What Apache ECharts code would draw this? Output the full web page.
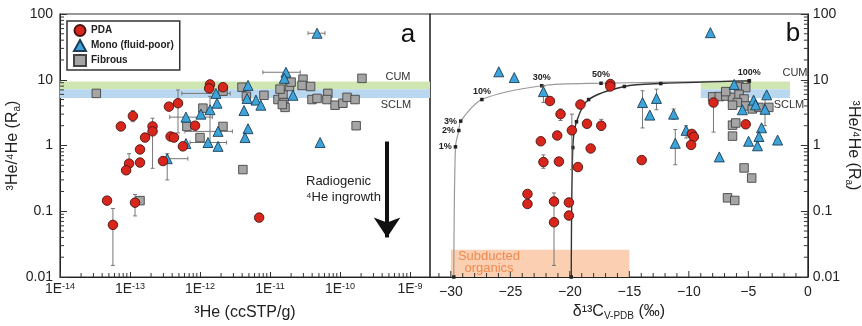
<!DOCTYPE html>
<html>
<head>
<meta charset="utf-8">
<title>3He/4He vs 3He and d13C</title>
<script src="https://cdn.jsdelivr.net/npm/echarts@6/dist/echarts.min.js"></script>
<style>
  html, body { margin: 0; padding: 0; background: #fff; }
  #chart { width: 862px; height: 326px; }
</style>
</head>
<body>
<div id="chart"></div>
<script>
const FONT = "'Liberation Sans', Arial, sans-serif";

// panel a: 3He (ccSTP/g) vs 3He/4He (Ra)
const pdaA = [[1.39e-12, 8.5], [1.35e-12, 7.4], [2.13e-12, 7.7], [3.6e-13, 3.9], [4.85e-13, 4.4],
  [1.1e-13, 2.8], [7.4e-14, 1.95], [8.5e-13, 2.0], [2.1e-13, 1.95], [2.1e-13, 1.64], [1.64e-13, 1.32],
  [3.8e-13, 1.37], [4.25e-13, 1.32], [5.7e-13, 0.97], [1.39e-13, 0.87], [9.7e-14, 0.53], [1.39e-13, 0.55],
  [8.8e-14, 0.42], [2.96e-13, 0.58], [4.7e-14, 0.145], [5.7e-14, 0.062], [1.18e-13, 0.135], [7.0e-12, 0.08]];
const monoA = [[4.7e-11, 51], [1.69e-11, 13], [1.6e-11, 10.5], [2.13e-11, 5.8], [4.85e-12, 8.2],
  [1.69e-12, 6.2], [1.75e-12, 4.4], [1.39e-12, 3.5], [1.03e-12, 3.0], [6.3e-13, 2.7], [4.7e-12, 5.2],
  [6.3e-12, 4.9], [7.4e-12, 4.1], [4.25e-12, 3.4], [4.85e-12, 1.8], [4.4e-12, 1.32], [1.3e-12, 1.11],
  [1.81e-12, 0.97], [1.81e-12, 1.64], [6.3e-13, 1.07], [3.4e-13, 0.63], [5.2e-11, 1.11]];
const fibA = [[3.3e-14, 6.2], [6.5e-13, 1.95], [1.0e-12, 1.32], [1.1e-12, 3.7], [2.13e-12, 6.7],
  [2.13e-12, 1.95], [3.98e-12, 7.7], [4.6e-12, 5.6], [4.1e-12, 0.43], [1.39e-13, 0.145], [8.2e-12, 5.8],
  [1.3e-11, 5.0], [1.53e-11, 6.0], [1.58e-11, 4.5], [1.64e-11, 3.8], [1.9e-11, 7.9], [2.0e-11, 9.2],
  [2.96e-11, 10.2], [2.87e-11, 8.2], [3.8e-11, 7.9], [3.98e-11, 5.0], [4.7e-11, 5.2], [6.7e-11, 6.2],
  [6.5e-11, 5.0], [8.5e-11, 4.1], [1.1e-10, 4.4], [1.26e-10, 5.4], [1.64e-10, 5.0], [2.06e-10, 10.5],
  [1.7e-10, 2.0], [1.39e-11, 7.2], [1.5e-11, 4.2]];
// error bars: [x, yLow, yHigh] and [y, xLow, xHigh]
const errYA = [[1.1e-13, 2.3, 3.4], [2.1e-13, 0.45, 2.6], [4.85e-13, 1.55, 7.0], [5.7e-14, 0.015, 0.11],
  [1.18e-13, 0.085, 0.18], [9.7e-14, 0.4, 0.75], [3.4e-13, 0.3, 0.75], [1.39e-12, 0.97, 5.6]];
const errXA = [[51, 3.5e-11, 6.1e-11], [13, 7.9e-12, 2.7e-11], [2.7, 3.7e-13, 1.5e-12],
  [6.2, 5.5e-13, 2.7e-12], [1.64, 6.1e-13, 2.9e-12], [0.63, 3.5e-13, 6.7e-13], [1.11, 7.2e-13, 2.4e-12]];

// panel b: d13C (permil) vs 3He/4He (Ra)
const pdaB = [[-21.67, 4.75], [-20.78, 3.0], [-19.11, 4.2], [-21.06, 1.42], [-22.44, 1.16], [-19.83, 1.7],
  [-18.56, 2.14], [-17.36, 2.0], [-18.25, 0.9], [-22.22, 0.56], [-20.92, 0.57], [-19.32, 0.47],
  [-16.6, 8.6], [-16.6, 7.9], [-13.96, 0.6], [-7.93, 4.5], [-9.75, 1.5], [-9.58, 1.35], [-9.81, 1.02],
  [-5.22, 2.1], [-23.56, 0.183], [-23.56, 0.129], [-21.33, 0.141], [-21.33, 0.068], [-20.08, 0.136],
  [-20.08, 0.086]];
const monoB = [[-25.97, 13.2], [-24.67, 10.8], [-22.22, 6.6], [-8.19, 52], [-6.19, 8.5], [-13.89, 4.5],
  [-12.72, 5.2], [-13.28, 2.9], [-11.28, 3.0], [-10.23, 1.7], [-11.14, 1.08], [-7.44, 0.67], [-4.56, 4.9],
  [-4.39, 4.15], [-5.5, 3.5], [-3.6, 3.55], [-3.46, 5.9], [-3.89, 1.86], [-4.11, 1.37], [-4.98, 1.16],
  [-4.23, 0.99], [-2.54, 1.21]];
const fibB = [[-8.0, 5.5], [-7.44, 5.55], [-6.89, 5.65], [-6.33, 5.4], [-5.78, 7.8], [-5.22, 7.6],
  [-5.78, 6.0], [-5.36, 5.1], [-5.92, 4.5], [-6.33, 4.1], [-5.22, 4.0], [-4.67, 3.6], [-4.11, 3.8],
  [-3.28, 3.8], [-6.9, 6.6], [-6.33, 2.04], [-6.06, 2.2], [-6.33, 1.39], [-5.36, 0.456], [-4.72, 0.32],
  [-6.75, 0.16], [-6.14, 0.146]];
const errYB = [[-22.22, 4.5, 8.0], [-20.78, 2.4, 3.6], [-17.36, 1.7, 2.5], [-22.22, 0.45, 0.72],
  [-21.33, 0.015, 0.19], [-19.83, 0.43, 3.0], [-13.89, 1.85, 6.8], [-12.72, 3.5, 7.2], [-11.28, 2.5, 3.6],
  [-10.23, 1.3, 2.0], [-11.14, 0.51, 1.75], [-7.93, 1.6, 5.6], [-3.6, 2.0, 5.8]];

// mixing curves (panel b)
const mixGray = [[-29.75, 0.01], [-29.61, 0.955], [-29.33, 1.69], [-29.17, 2.35], [-27.39, 5.0],
  [-22.36, 8.1], [-17.38, 8.85], [-4.92, 9.6]];
const mixGrayPct = ['', '1%', '2%', '3%', '10%', '30%', '50%', '100%'];
const mixDark = [[-19.88, 0.01], [-19.75, 0.93], [-19.44, 2.3], [-18.42, 5.0], [-15.42, 7.9],
  [-12.36, 8.75], [-4.92, 9.6]];

// reference ranges
const cumBand = [7.2, 9.4];
const sclmBand = [5.3, 7.2];
const bandXB = [-9, -1.5];
const organicsX = [-30, -15];
const organicsY = [0.01, 0.026];
const arrowX = 4.7e-10;
const arrowY = [1.15, 0.04];

// axis tick helpers
const minorMult = [2, 3, 4, 5, 6, 7, 8, 9];
function minorLog(lo, hi) {
  const out = [];
  for (let k = lo; k <= hi; k++) minorMult.forEach(m => out.push(m * Math.pow(10, k)));
  return out;
}
const xTicksB = [];
for (let v = -31; v <= -1; v++) xTicksB.push(v);

const C_RED = '#d8261d', C_BLUE = '#3ca4da', C_GRAY = '#a5a5a5';

function tickItem(dx, dy) {
  return function (params, api) {
    const p = api.coord([api.value(0), api.value(1)]);
    const f = api.value(2) || 1;
    return {
      type: 'line',
      shape: { x1: p[0], y1: p[1], x2: p[0] + dx * f, y2: p[1] + dy * f },
      style: { stroke: '#333', lineWidth: 1 }
    };
  };
}
function errYItem(params, api) {
  const a = api.coord([api.value(0), api.value(1)]);
  const b = api.coord([api.value(0), api.value(2)]);
  const st = { stroke: '#777', lineWidth: 1 };
  return { type: 'group', children: [
    { type: 'line', shape: { x1: a[0], y1: a[1], x2: b[0], y2: b[1] }, style: st },
    { type: 'line', shape: { x1: a[0] - 2, y1: a[1], x2: a[0] + 2, y2: a[1] }, style: st },
    { type: 'line', shape: { x1: b[0] - 2, y1: b[1], x2: b[0] + 2, y2: b[1] }, style: st }
  ] };
}
function errXItem(params, api) {
  const a = api.coord([api.value(1), api.value(0)]);
  const b = api.coord([api.value(2), api.value(0)]);
  const st = { stroke: '#777', lineWidth: 1 };
  return { type: 'group', children: [
    { type: 'line', shape: { x1: a[0], y1: a[1], x2: b[0], y2: b[1] }, style: st },
    { type: 'line', shape: { x1: a[0], y1: a[1] - 2, x2: a[0], y2: a[1] + 2 }, style: st },
    { type: 'line', shape: { x1: b[0], y1: b[1] - 2, x2: b[0], y2: b[1] + 2 }, style: st }
  ] };
}

function scatter(name, data, xi, symbol, size, color, border) {
  return {
    name, type: 'scatter', xAxisIndex: xi, yAxisIndex: xi, data, symbol, symbolSize: size,
    itemStyle: { color, borderColor: border, borderWidth: 0.9, opacity: 1 }, z: 5
  };
}

const pctPos = { '1%': 'left', '2%': 'left', '3%': 'left', '10%': 'top', '30%': 'top', '50%': 'top', '100%': 'top' };

const chart = echarts.init(document.getElementById('chart'));
const yLabelFmt = v => String(parseFloat(Number(v).toPrecision(6)));
const labelStyle = { fontSize: 14, color: '#222', fontFamily: FONT };
const txt = (x, y, text, size, fill, align) => ({
  type: 'text', x, y, z: 100,
  style: { text, font: size + 'px ' + FONT, fill, textAlign: align || 'center', textVerticalAlign: 'middle' }
});

chart.setOption({
  animation: false,
  backgroundColor: '#fff',
  textStyle: { fontFamily: FONT },
  grid: [
    { left: 60, top: 14, width: 370, height: 263, show: true, borderColor: '#333', borderWidth: 1.2 },
    { left: 430, top: 14, width: 381, height: 263, show: true, borderColor: '#333', borderWidth: 1.2 }
  ],
  legend: {
    data: ['PDA', 'Mono (fluid-poor)', 'Fibrous'],
    orient: 'vertical', left: 67, top: 21,
    padding: [3, 6, 3, 6], itemGap: 2, itemWidth: 12, itemHeight: 11,
    borderColor: '#333', borderWidth: 1.5, backgroundColor: '#fff',
    selectedMode: false,
    textStyle: { fontSize: 10, fontWeight: 'bold', color: '#222', fontFamily: FONT }
  },
  xAxis: [
    {
      gridIndex: 0, type: 'log', logBase: 10, min: 1e-14, max: 1.93e-9,
      name: '³He (ccSTP/g)', nameLocation: 'middle', nameGap: 28,
      nameTextStyle: { fontSize: 16, color: '#222' },
      axisLine: { lineStyle: { color: '#222', width: 1 } },
      axisTick: { inside: true, length: 5, lineStyle: { color: '#333' } },
      splitLine: { show: false },
      axisLabel: {
        margin: 5, showMaxLabel: false,
        formatter: v => {
          const e = Math.log10(v);
          if (Math.abs(e - Math.round(e)) > 1e-6) return '';
          return '{b|1E}{s|' + Math.round(e) + '}';
        },
        rich: {
          b: { fontSize: 14, color: '#222' },
          s: { fontSize: 9, color: '#222', verticalAlign: 'top' }
        }
      }
    },
    {
      gridIndex: 1, type: 'value', min: -31.75, max: 0, splitNumber: 6,
      name: '{t|δ¹³C}{s|V-PDB}{t| (‰)}', nameLocation: 'middle', nameGap: 25,
      nameTextStyle: {
        rich: {
          t: { fontSize: 16, color: '#222' },
          s: { fontSize: 10, color: '#222', verticalAlign: 'bottom', padding: [8, 0, 0, 0] }
        }
      },
      axisLine: { lineStyle: { color: '#222', width: 1 } },
      axisTick: { show: false },
      splitLine: { show: false },
      axisLabel: Object.assign({}, labelStyle, {
        margin: 8,
        formatter: v => {
          if (v < -30.001 || Math.abs(v / 5 - Math.round(v / 5)) > 1e-6) return '';
          return v < 0 ? '−' + (-v) : '0';
        }
      })
    }
  ],
  yAxis: [
    {
      gridIndex: 0, type: 'log', logBase: 10, min: 0.01, max: 100,
      name: '{t|³He/⁴He (R}{s|a}{t|)}', nameLocation: 'middle', nameGap: 36,
      nameTextStyle: {
        rich: {
          t: { fontSize: 16, color: '#222' },
          s: { fontSize: 10, color: '#222', verticalAlign: 'bottom', padding: [8, 0, 0, 0] }
        }
      },
      axisLine: { lineStyle: { color: '#222', width: 1 } },
      axisTick: { inside: true, length: 7, lineStyle: { color: '#333' } },
      splitLine: { show: false },
      axisLabel: Object.assign({}, labelStyle, { margin: 7, formatter: yLabelFmt })
    },
    {
      gridIndex: 1, type: 'log', logBase: 10, min: 0.01, max: 100, position: 'right',
      name: '{t|³He/⁴He (R}{s|a}{t|)}', nameLocation: 'middle', nameGap: 34, nameRotate: -90,
      nameTextStyle: {
        rich: {
          t: { fontSize: 16, color: '#222' },
          s: { fontSize: 10, color: '#222', verticalAlign: 'bottom', padding: [8, 0, 0, 0] }
        }
      },
      axisLine: { lineStyle: { color: '#222', width: 1 } },
      axisTick: { inside: true, length: 7, lineStyle: { color: '#333' } },
      splitLine: { show: false },
      axisLabel: Object.assign({}, labelStyle, { margin: 5, formatter: yLabelFmt })
    }
  ],
  series: [
    // reference bands + arrow, panel a
    {
      type: 'scatter', xAxisIndex: 0, yAxisIndex: 0, data: [], silent: true, z: 1,
      markArea: {
        silent: true,
        data: [
          [{ yAxis: cumBand[0], itemStyle: { color: '#cfe6b2' } }, { yAxis: cumBand[1] }],
          [{ yAxis: sclmBand[0], itemStyle: { color: '#bad7f0' } }, { yAxis: sclmBand[1] }]
        ]
      },
      markLine: {
        silent: true, symbol: ['none', 'arrow'], symbolSize: 20,
        lineStyle: { color: '#111', width: 4, type: 'solid' },
        itemStyle: { color: '#111' },
        label: { show: false },
        data: [[{ coord: [arrowX, arrowY[0]] }, { coord: [arrowX, arrowY[1]] }]]
      }
    },
    // reference bands + subducted organics, panel b
    {
      type: 'scatter', xAxisIndex: 1, yAxisIndex: 1, data: [], silent: true, z: 1,
      markArea: {
        silent: true,
        data: [
          [{ xAxis: bandXB[0], yAxis: cumBand[0], itemStyle: { color: '#cfe6b2' } }, { xAxis: bandXB[1], yAxis: cumBand[1] }],
          [{ xAxis: bandXB[0], yAxis: sclmBand[0], itemStyle: { color: '#bad7f0' } }, { xAxis: bandXB[1], yAxis: sclmBand[1] }],
          [{ xAxis: organicsX[0], yAxis: organicsY[0], itemStyle: { color: '#fbcfb1' } }, { xAxis: organicsX[1], yAxis: organicsY[1] }]
        ]
      }
    },
    // minor ticks
    { type: 'custom', xAxisIndex: 0, yAxisIndex: 0, silent: true, z: 6, renderItem: tickItem(4, 0),
      encode: { x: 0, y: 1 }, data: minorLog(-2, 1).map(v => [1e-14, v]) },
    { type: 'custom', xAxisIndex: 0, yAxisIndex: 0, silent: true, z: 6, renderItem: tickItem(0, -4),
      encode: { x: 0, y: 1 }, data: minorLog(-14, -10).map(v => [v, 0.01]) },
    { type: 'custom', xAxisIndex: 1, yAxisIndex: 1, silent: true, z: 6, renderItem: tickItem(-4, 0),
      encode: { x: 0, y: 1 }, data: minorLog(-2, 1).map(v => [0, v]) },
    { type: 'custom', xAxisIndex: 1, yAxisIndex: 1, silent: true, z: 6, renderItem: tickItem(0, -4),
      encode: { x: 0, y: 1 }, data: xTicksB.map(v => [v, 0.01, v % 5 === 0 ? 1.5 : 1]) },
    // mixing curves
    {
      type: 'line', xAxisIndex: 1, yAxisIndex: 1, silent: true, z: 2, smooth: 0.3,
      symbol: 'rect', symbolSize: 3.5, showAllSymbol: true,
      lineStyle: { color: '#999', width: 1.2 }, itemStyle: { color: '#222' },
      data: mixGray.map((p, i) => ({
        value: p,
        label: {
          show: !!mixGrayPct[i], formatter: mixGrayPct[i], position: pctPos[mixGrayPct[i]] || 'top',
          distance: 2, fontSize: 9, fontWeight: 'bold', color: '#222'
        }
      }))
    },
    {
      type: 'line', xAxisIndex: 1, yAxisIndex: 1, silent: true, z: 2, smooth: 0.3,
      symbol: 'rect', symbolSize: 3.5, showAllSymbol: true,
      lineStyle: { color: '#333', width: 1.4 }, itemStyle: { color: '#222' },
      data: mixDark
    },
    // error bars
    { type: 'custom', xAxisIndex: 0, yAxisIndex: 0, silent: true, z: 3, renderItem: errYItem,
      encode: { x: 0, y: [1, 2] }, data: errYA },
    { type: 'custom', xAxisIndex: 0, yAxisIndex: 0, silent: true, z: 3, renderItem: errXItem,
      encode: { x: [1, 2], y: 0 }, data: errXA },
    { type: 'custom', xAxisIndex: 1, yAxisIndex: 1, silent: true, z: 3, renderItem: errYItem,
      encode: { x: 0, y: [1, 2] }, data: errYB },
    // samples
    scatter('Fibrous', fibA, 0, 'rect', 8.5, C_GRAY, '#444'),
    scatter('Mono (fluid-poor)', monoA, 0, 'triangle', 10, C_BLUE, '#1c3d55'),
    scatter('PDA', pdaA, 0, 'circle', 9.5, C_RED, '#4a1410'),
    scatter('Fibrous', fibB, 1, 'rect', 8.5, C_GRAY, '#444'),
    scatter('Mono (fluid-poor)', monoB, 1, 'triangle', 10, C_BLUE, '#1c3d55'),
    scatter('PDA', pdaB, 1, 'circle', 9.5, C_RED, '#4a1410')
  ],
  graphic: [
    txt(408, 35, 'a', 26, '#111'),
    txt(793, 34, 'b', 26, '#111'),
    txt(398, 77, 'CUM', 11, '#333'),
    txt(396, 105, 'SCLM', 11, '#333'),
    txt(795, 73, 'CUM', 11, '#333'),
    txt(789, 105, 'SCLM', 11, '#333'),
    txt(306, 181, 'Radiogenic', 13, '#222', 'left'),
    txt(306, 197, '⁴He ingrowth', 13, '#222', 'left'),
    txt(489, 256, 'Subducted', 13, '#f08b50'),
    txt(489, 268, 'organics', 13, '#f08b50')
  ]
});
</script>
</body>
</html>
